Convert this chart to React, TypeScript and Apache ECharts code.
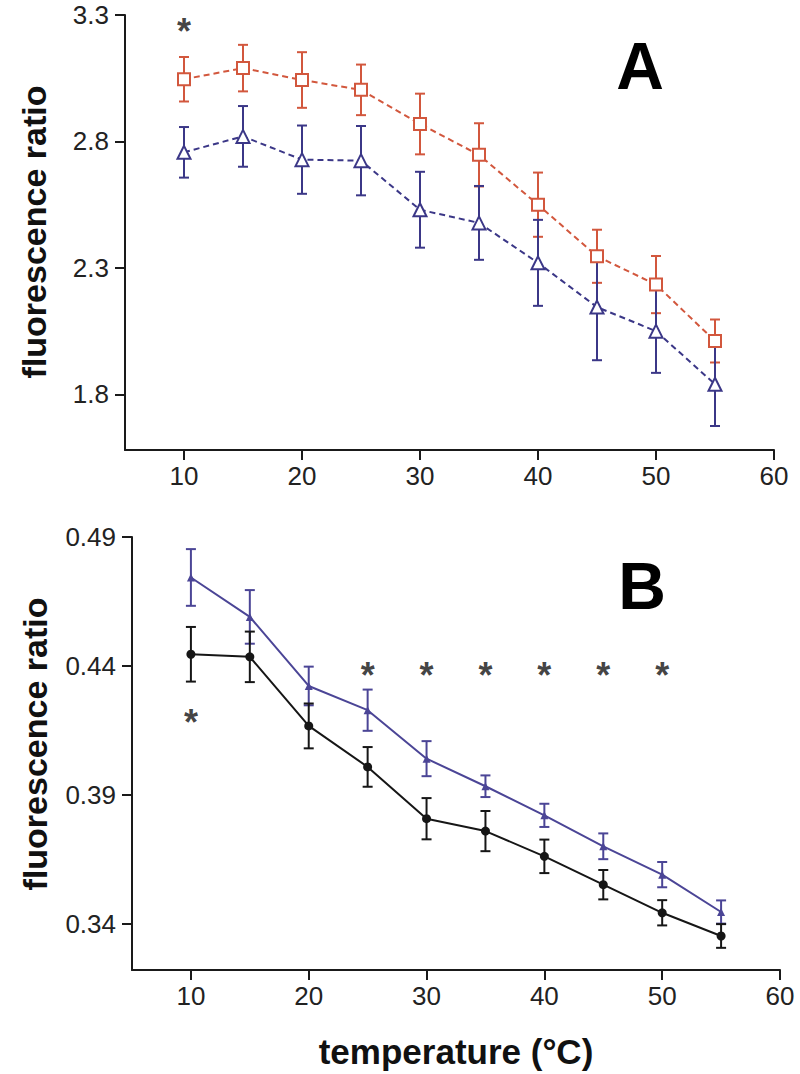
import React, { useEffect, useRef } from "react";
import * as echarts from "echarts";

const temps = [10, 15, 20, 25, 30, 35, 40, 45, 50, 55];
const xTicks = [10, 20, 30, 40, 50, 60];

// Panel A
const redMean = [3.046, 3.09, 3.043, 3.004, 2.869, 2.747, 2.55, 2.346, 2.234, 2.011];
const redErr = [0.088, 0.092, 0.11, 0.1, 0.12, 0.125, 0.127, 0.105, 0.113, 0.085];
const blueMean = [2.757, 2.82, 2.728, 2.724, 2.53, 2.478, 2.32, 2.145, 2.05, 1.84];
const blueErr = [0.1, 0.12, 0.135, 0.137, 0.15, 0.146, 0.17, 0.21, 0.165, 0.165];
const yTicksA = [1.8, 2.3, 2.8, 3.3];
const starsA: number[][] = [[10, 3.26]];

// Panel B
const purpleMean = [0.4743, 0.459, 0.4322, 0.4228, 0.404, 0.3933, 0.382, 0.37, 0.359, 0.3445];
const purpleErr = [0.011, 0.0104, 0.0075, 0.008, 0.0068, 0.0042, 0.0045, 0.005, 0.0049, 0.0045];
const blackMean = [0.4445, 0.4435, 0.4167, 0.4008, 0.3807, 0.3759, 0.3661, 0.3551, 0.3442, 0.3352];
const blackErr = [0.0106, 0.0098, 0.0087, 0.0077, 0.008, 0.0078, 0.0065, 0.0057, 0.0049, 0.0046];
const yTicksB = [0.34, 0.39, 0.44, 0.49];
const starsB: number[][] = [[10, 0.4205], [25, 0.4385], [30, 0.4385], [35, 0.4385], [40, 0.4385], [45, 0.4385], [50, 0.4385]];

const RED = "#D2573D";
const BLUE = "#3B3787";
const PURPLE = "#4B4596";
const BLACK = "#161616";
const AXIS = "#1a1a1a";
const FONT = "'Liberation Sans', Arial, Helvetica, sans-serif";

function errData(mean: number[], err: number[]) {
  return temps.map((t, i) => [t, mean[i] - err[i], mean[i] + err[i]]);
}

function errSeries(idx: number, mean: number[], err: number[], color: string, capW: number) {
  return {
    type: "custom",
    xAxisIndex: idx,
    yAxisIndex: idx,
    z: 2,
    data: errData(mean, err),
    renderItem: (params: any, api: any) => {
      const x = api.value(0);
      const lo = api.coord([x, api.value(1)]);
      const hi = api.coord([x, api.value(2)]);
      const style = { stroke: color, lineWidth: 2 };
      return {
        type: "group",
        children: [
          { type: "line", shape: { x1: lo[0], y1: lo[1], x2: hi[0], y2: hi[1] }, style },
          { type: "line", shape: { x1: lo[0] - capW / 2, y1: lo[1], x2: lo[0] + capW / 2, y2: lo[1] }, style },
          { type: "line", shape: { x1: hi[0] - capW / 2, y1: hi[1], x2: hi[0] + capW / 2, y2: hi[1] }, style },
        ],
      };
    },
  };
}

function pairs(mean: number[]) {
  return temps.map((t, i) => [t, mean[i]]);
}

function starSeries(idx: number, data: number[][]) {
  return {
    type: "scatter",
    xAxisIndex: idx,
    yAxisIndex: idx,
    symbol: "circle",
    symbolSize: 1,
    itemStyle: { color: "rgba(0,0,0,0)" },
    z: 5,
    data,
    label: {
      show: true,
      position: "inside",
      formatter: "*",
      color: "#111",
      fontSize: 36,
      fontWeight: "bold",
      fontFamily: FONT,
      offset: [0, 6],
    },
  };
}

function xAxis(idx: number) {
  return {
    type: "value",
    gridIndex: idx,
    min: 5,
    max: 60,
    splitLine: { show: false },
    axisLine: { show: true, onZero: false, lineStyle: { color: AXIS, width: 2 } },
    axisTick: { show: true, inside: false, length: 10, customValues: xTicks, lineStyle: { color: AXIS, width: 2 } },
    axisLabel: { customValues: xTicks, color: "#222", fontSize: 26, fontFamily: FONT, margin: 13 },
  };
}

function yAxis(idx: number, min: number, max: number, ticks: number[], digits: number) {
  return {
    type: "value",
    gridIndex: idx,
    min,
    max,
    splitLine: { show: false },
    axisLine: { show: true, onZero: false, lineStyle: { color: AXIS, width: 2 } },
    axisTick: { show: true, inside: false, length: 10, customValues: ticks, lineStyle: { color: AXIS, width: 2 } },
    axisLabel: {
      customValues: ticks,
      color: "#222",
      fontSize: 26,
      fontFamily: FONT,
      margin: 16,
      formatter: (v: number) => v.toFixed(digits),
    },
  };
}

export default function App() {
  const ref = useRef<HTMLDivElement>(null);
  useEffect(() => {
    if (!ref.current) return;
    const chart = echarts.init(ref.current, undefined, { renderer: "svg" });
    const option: any = {
      animation: false,
      backgroundColor: "#fff",
      grid: [
        { left: 125, top: 15, width: 649, height: 435 },
        { left: 132, top: 537, width: 648, height: 433 },
      ],
      xAxis: [xAxis(0), xAxis(1)],
      yAxis: [yAxis(0, 1.58, 3.3, yTicksA, 1), yAxis(1, 0.322, 0.49, yTicksB, 2)],
      graphic: [
        {
          type: "text",
          x: 34,
          y: 232,
          rotation: Math.PI / 2,
          style: { text: "fluorescence ratio", font: `bold 34px ${FONT}`, fill: "#111", textAlign: "center", textVerticalAlign: "middle" },
        },
        {
          type: "text",
          x: 35,
          y: 744,
          rotation: Math.PI / 2,
          style: { text: "fluorescence ratio", font: `bold 34px ${FONT}`, fill: "#111", textAlign: "center", textVerticalAlign: "middle" },
        },
        {
          type: "text",
          x: 456,
          y: 1051,
          style: { text: "temperature (°C)", font: `bold 35px ${FONT}`, fill: "#111", textAlign: "center", textVerticalAlign: "middle" },
        },
        {
          type: "text",
          x: 640,
          y: 66,
          style: { text: "A", font: `bold 66px ${FONT}`, fill: "#000", textAlign: "center", textVerticalAlign: "middle" },
        },
        {
          type: "text",
          x: 642,
          y: 586,
          style: { text: "B", font: `bold 66px ${FONT}`, fill: "#000", textAlign: "center", textVerticalAlign: "middle" },
        },
      ],
      series: [
        errSeries(0, redMean, redErr, RED, 10),
        errSeries(0, blueMean, blueErr, BLUE, 10),
        {
          type: "line",
          xAxisIndex: 0,
          yAxisIndex: 0,
          data: pairs(redMean),
          symbol: "rect",
          symbolSize: 12,
          z: 3,
          lineStyle: { color: RED, width: 2, type: [6, 4] },
          itemStyle: { color: "#fff", borderColor: RED, borderWidth: 2 },
        },
        {
          type: "line",
          xAxisIndex: 0,
          yAxisIndex: 0,
          data: pairs(blueMean),
          symbol: "triangle",
          symbolSize: 13,
          z: 3,
          lineStyle: { color: BLUE, width: 2, type: [6, 4] },
          itemStyle: { color: "#fff", borderColor: BLUE, borderWidth: 2 },
        },
        starSeries(0, starsA),
        errSeries(1, purpleMean, purpleErr, PURPLE, 10),
        errSeries(1, blackMean, blackErr, BLACK, 10),
        {
          type: "line",
          xAxisIndex: 1,
          yAxisIndex: 1,
          data: pairs(purpleMean),
          symbol: "triangle",
          symbolSize: 8,
          z: 3,
          lineStyle: { color: PURPLE, width: 2 },
          itemStyle: { color: PURPLE },
        },
        {
          type: "line",
          xAxisIndex: 1,
          yAxisIndex: 1,
          data: pairs(blackMean),
          symbol: "circle",
          symbolSize: 9,
          z: 3,
          lineStyle: { color: BLACK, width: 2 },
          itemStyle: { color: BLACK },
        },
        starSeries(1, starsB),
      ],
    };
    chart.setOption(option);
    return () => chart.dispose();
  }, []);
  return <div ref={ref} style={{ position: "fixed", left: 0, top: 0, width: 800, height: 1074 }} />;
}
